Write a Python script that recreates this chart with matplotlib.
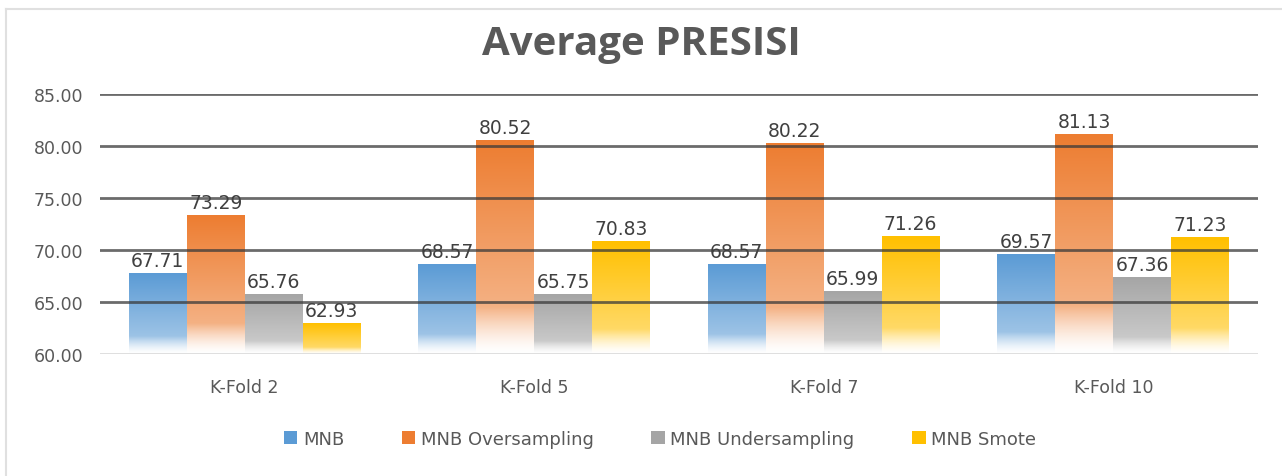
import numpy as np
import matplotlib
matplotlib.use("Agg")
import matplotlib.pyplot as plt
from matplotlib.patches import Patch
from matplotlib.lines import Line2D
from matplotlib.colors import to_rgb

categories = ["K-Fold 2", "K-Fold 5", "K-Fold 7", "K-Fold 10"]
series_names = ["MNB", "MNB Oversampling", "MNB Undersampling", "MNB Smote"]
mnb = [67.71, 68.57, 68.57, 69.57]
mnb_over = [73.29, 80.52, 80.22, 81.13]
mnb_under = [65.76, 65.75, 65.99, 67.36]
mnb_smote = [62.93, 70.83, 71.26, 71.23]
yticks = [60, 65, 70, 75, 80, 85]
colors = ["#5B9BD5", "#ED7D31", "#A5A5A5", "#FFC000"]

series = [mnb, mnb_over, mnb_under, mnb_smote]

plt.rcParams['font.family'] = ['DejaVu Sans']
fig = plt.figure(figsize=(12.82, 4.77), dpi=100)
# outer chart border (top and left visible)
fig.lines.append(Line2D([6/1282, 1.0], [1-10/477, 1-10/477], transform=fig.transFigure,
                        color="#E0E0E0", lw=1.5))
fig.lines.append(Line2D([6/1282, 6/1282], [0, 1-10/477], transform=fig.transFigure,
                        color="#E0E0E0", lw=1.5))

ax = fig.add_axes([100/1282, 1-355/477, 1158/1282, 260/477])
ymin = 60

width = 0.2
n = 200
t = np.linspace(0, 1, n)
w = np.where(t < 0.22, 0.6*(t/0.22)**1.5, 0.6 + 0.4*(t-0.22)/0.78)

for si, (vals, c) in enumerate(zip(series, colors)):
    rgb = np.array(to_rgb(c))
    grad = (1-w)[:, None]*np.ones(3)[None, :] + w[:, None]*rgb[None, :]
    img = grad[:, None, :]
    for ci, v in enumerate(vals):
        x0 = ci - 0.4 + si*width
        ax.imshow(img, extent=(x0, x0+width, ymin, v), origin='lower', aspect='auto', zorder=2,
                  interpolation='bilinear')
        ax.annotate(f"{v:.2f}", (x0+width/2, v), xytext=(0, 2.5), textcoords='offset points',
                    ha='center', va='bottom', fontsize=13.5, color="#404040", zorder=4)

ax.set_xlim(-0.5, len(categories)-0.5)
ax.set_ylim(ymin, 85)
for y in yticks[1:]:
    ax.axhline(y, color="#3A3A3A", lw=2, alpha=0.75, zorder=3)
ax.axhline(ymin, color="#D9D9D9", lw=1.2, zorder=3)

ax.set_yticks(yticks)
ax.set_yticklabels([f"{y:.2f}" for y in yticks], fontsize=12.5, color="#595959")
ax.set_xticks(range(len(categories)))
ax.set_xticklabels(categories, fontsize=12.5, color="#595959")
ax.tick_params(axis='y', length=0, pad=12)
ax.tick_params(axis='x', length=0, pad=17)
for s in ax.spines.values():
    s.set_visible(False)

fig.text(0.5, 1-55/477, "Average PRESISI", ha='center', va='baseline', fontsize=29,
         fontweight='bold', color="#595959", family='Open Sans')

handles = [Patch(facecolor=c, edgecolor='none') for c in colors]
fig.legend(handles, series_names, loc='center', bbox_to_anchor=(660/1282, 1-440/477), ncol=4,
           frameon=False, fontsize=13, handlelength=0.75, handleheight=0.75,
           columnspacing=3.2, handletextpad=0.3, labelcolor="#595959")

fig.savefig("out.png", dpi=100)
